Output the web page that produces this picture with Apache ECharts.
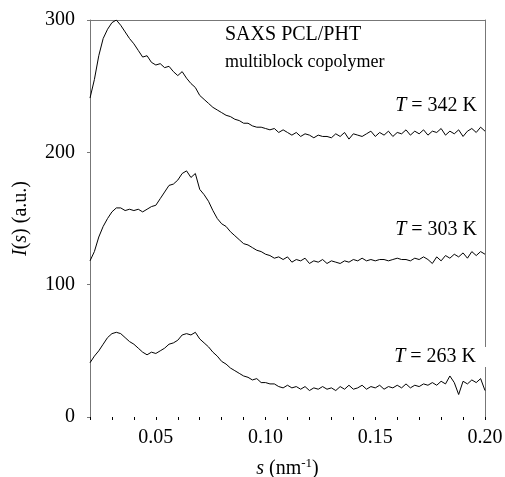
<!DOCTYPE html>
<html>
<head>
<meta charset="utf-8">
<script src="https://cdn.jsdelivr.net/npm/echarts@6/dist/echarts.min.js"></script>
<style>
  html, body { margin: 0; padding: 0; background: #fff; }
  #mainChart { width: 505px; height: 477px; }
</style>
</head>
<body>
<div id="mainChart"></div>
<script>
// scattering vector s (nm^-1)
var sValues = [
  0.020, 0.022, 0.024, 0.026, 0.028, 0.030, 0.032, 0.034, 0.036, 0.038,
  0.040, 0.042, 0.044, 0.046, 0.048, 0.050, 0.052, 0.054, 0.056, 0.058,
  0.060, 0.062, 0.064, 0.066, 0.068, 0.070, 0.072, 0.074, 0.076, 0.078,
  0.080, 0.082, 0.084, 0.086, 0.088, 0.090, 0.092, 0.094, 0.096, 0.098,
  0.100, 0.102, 0.104, 0.106, 0.108, 0.110, 0.112, 0.114, 0.116, 0.118,
  0.120, 0.122, 0.124, 0.126, 0.128, 0.130, 0.132, 0.134, 0.136, 0.138,
  0.140, 0.142, 0.144, 0.146, 0.148, 0.150, 0.152, 0.154, 0.156, 0.158,
  0.160, 0.162, 0.164, 0.166, 0.168, 0.170, 0.172, 0.174, 0.176, 0.178,
  0.180, 0.182, 0.184, 0.186, 0.188, 0.190, 0.192, 0.194, 0.196, 0.198,
  0.200
];

// I(s) at T = 342 K
var i342 = [
  241, 255, 273, 286, 293, 298, 300, 296, 291, 286,
  282, 277, 272, 273, 268, 266, 267, 264, 265, 261,
  258, 261, 256, 252, 249, 243, 240, 237, 234, 232,
  230, 228, 227, 225, 224, 222, 222, 220, 219, 219,
  218, 217, 218, 215, 217, 215, 213, 215, 212, 214,
  213, 211, 213, 212, 212, 211, 214, 212, 215, 210,
  214, 213, 212, 214, 216, 212, 215, 213, 216, 212,
  215, 214, 217, 213, 216, 214, 217, 213, 216, 215,
  218, 213, 216, 214, 217, 212, 216, 218, 215, 219,
  216
];

// I(s) at T = 303 K
var i303 = [
  118, 125, 136, 144, 150, 155, 158, 158, 156, 157,
  156, 157, 155, 157, 159, 160, 165, 170, 175, 176,
  179, 184, 186, 181, 184, 172, 168, 163, 156, 150,
  146, 144, 140, 137, 134, 131, 130, 128, 126, 125,
  123, 122, 120, 121, 119, 121, 117, 119, 118, 120,
  116, 118, 117, 119, 116, 118, 117, 116, 118, 117,
  119, 118, 120, 118, 119, 118, 119, 119, 118, 119,
  120, 119, 119, 118, 120, 119, 121, 119, 116, 121,
  118, 122, 120, 123, 121, 124, 120, 125, 122, 125,
  123
];

// I(s) at T = 263 K
var i263 = [
  41, 46, 50, 55, 60, 63, 64, 63, 60, 57,
  55, 52, 49, 47, 49, 48, 50, 52, 55, 56,
  58, 62, 63, 62, 64, 59, 56, 53, 49, 46,
  42, 40, 37, 35, 33, 31, 30, 28, 29, 26,
  26, 25, 25, 23, 22, 24, 22, 23, 21, 23,
  20, 22, 21, 23, 21, 22, 20, 23, 21, 24,
  21, 22, 24, 21, 23, 22, 24, 21, 23, 22,
  24, 22, 25, 22, 24, 23, 25, 24, 26, 24,
  27, 25, 31, 26, 17, 27, 25, 28, 26, 29,
  20
];

var xTickLabels = ['0.05', '0.10', '0.15', '0.20'];
var yTicks = [0, 100, 200, 300];

function pairs(ys) {
    return sValues.map(function (s, i) { return [s, ys[i]]; });
}

var myChart = echarts.init(document.getElementById('mainChart'), null, { renderer: 'canvas' });

var serif = 'Liberation Serif';
var axisGray = '#777';
var fs = 20;
var fontCss = fs + 'px "Liberation Serif"';
var italicCss = 'italic ' + fs + 'px "Liberation Serif"';

var lineSeries = function (name, ys) {
    return {
        name: name,
        type: 'line',
        data: pairs(ys),
        showSymbol: false,
        smooth: false,
        lineStyle: { color: '#000', width: 1 },
        xAxisIndex: 0,
        yAxisIndex: 0
    };
};

myChart.setOption({
    backgroundColor: '#fff',
    animation: false,
    textStyle: { fontFamily: serif, color: '#000' },
    grid: { left: 90, right: 20, top: 20, bottom: 60, containLabel: false, outerBoundsMode: 'none' },
    xAxis: [{
        type: 'value',
        min: 0.02,
        max: 0.20,
        interval: 0.01,
        splitLine: { show: false },
        axisLine: { show: false },
        axisTick: { show: true, length: 3, lineStyle: { color: '#000' } },
        axisLabel: {
            margin: 11,
            fontSize: fs,
            fontFamily: serif,
            color: '#000',
            formatter: function (v) {
                var t = v.toFixed(2);
                return xTickLabels.indexOf(t) >= 0 ? t : '';
            }
        },
        name: '{i|s} (nm{sup|-1})',
        nameLocation: 'middle',
        nameGap: 40,
        nameTextStyle: {
            fontSize: fs,
            fontFamily: serif,
            color: '#000',
            rich: {
                i: { fontStyle: 'italic', fontSize: fs, fontFamily: serif },
                sup: { fontSize: 13, fontFamily: serif, padding: [0, 0, 10, 0] }
            }
        }
    }, {
        type: 'value',
        position: 'top',
        min: 0.02,
        max: 0.20,
        axisLine: { show: true, onZero: false, lineStyle: { color: axisGray, width: 1 } },
        axisTick: { show: false },
        axisLabel: { show: false },
        splitLine: { show: false }
    }],
    yAxis: [{
        type: 'value',
        min: yTicks[0],
        max: yTicks[yTicks.length - 1],
        interval: 100,
        splitLine: { show: false },
        axisLine: { show: true, lineStyle: { color: axisGray, width: 1 } },
        axisTick: { show: true, length: 3, lineStyle: { color: axisGray } },
        axisLabel: { margin: 15, fontSize: fs, fontFamily: serif, color: '#000' },
        name: '{i|I}({i|s}) (a.u.)',
        nameLocation: 'middle',
        nameGap: 59,
        nameTextStyle: {
            fontSize: fs,
            fontFamily: serif,
            color: '#000',
            rich: {
                i: { fontStyle: 'italic', fontSize: fs, fontFamily: serif }
            }
        }
    }, {
        type: 'value',
        position: 'right',
        min: 0,
        max: 300,
        axisLine: { show: true, onZero: false, lineStyle: { color: axisGray, width: 1 } },
        axisTick: { show: false },
        axisLabel: { show: false },
        splitLine: { show: false }
    }],
    graphic: [{
        type: 'text',
        left: 225,
        top: 25,
        z: 10,
        style: {
            text: '{a|SAXS PCL/PHT}\n{b|multiblock copolymer}',
            font: fontCss,
            fill: '#000',
            rich: {
                a: { font: fontCss, lineHeight: 27 },
                b: { font: '18px "Liberation Serif"', lineHeight: 27 }
            }
        }
    }, {
        type: 'text',
        right: 28,
        top: 96,
        z: 10,
        style: {
            text: '{i|T} = 342 K',
            font: fontCss,
            fill: '#000',
            rich: { i: { font: italicCss } }
        }
    }, {
        type: 'text',
        right: 28,
        top: 220,
        z: 10,
        style: {
            text: '{i|T} = 303 K',
            font: fontCss,
            fill: '#000',
            rich: { i: { font: italicCss } }
        }
    }, {
        type: 'text',
        right: 16,
        top: 347,
        z: 10,
        style: {
            text: '{i|T} = 263 K',
            font: fontCss,
            fill: '#000',
            backgroundColor: '#fff',
            padding: [0, 13, 0, 2],
            rich: { i: { font: italicCss } }
        }
    }],
    series: [
        lineSeries('342 K', i342),
        lineSeries('303 K', i303),
        lineSeries('263 K', i263)
    ]
});
</script>
</body>
</html>
